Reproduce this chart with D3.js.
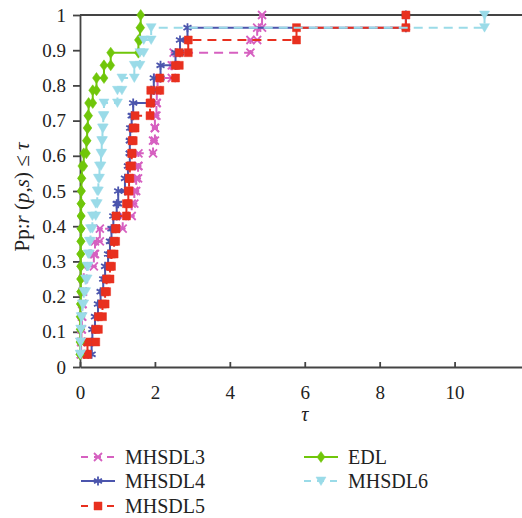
<!DOCTYPE html>
<html>
<head>
<meta charset="utf-8">
<script src="https://cdn.jsdelivr.net/npm/d3@7"></script>
<style>
body { margin: 0; background: #fff; }
</style>
</head>
<body>
<svg id="chart"></svg>
<script>
// fraction of problems solved (28 problems)
var levels = [0.036, 0.071, 0.107, 0.143, 0.179, 0.214, 0.25, 0.286, 0.321, 0.357,
              0.393, 0.429, 0.464, 0.5, 0.536, 0.571, 0.607, 0.643, 0.679, 0.714,
              0.75, 0.786, 0.821, 0.857, 0.893, 0.929, 0.964, 1];

// tau value at which each level is reached
var tauMHSDL3 = [0.02, 0.03, 0.04, 0.05, 0.06, 0.07, 0.08, 0.1, 0.37, 0.4,
                 0.53, 1.14, 1.38, 1.45, 1.5, 1.55, 1.56, 1.95, 2.0, 2.0,
                 2.04, 2.05, 2.07, 2.45, 2.5, 4.55, 4.73, 4.86];
var tauMHSDL4 = [0.22, 0.31, 0.33, 0.4, 0.48, 0.55, 0.62, 0.67, 0.75, 0.8,
                 0.84, 0.89, 0.98, 1.02, 1.2, 1.28, 1.33, 1.33, 1.34, 1.38,
                 1.42, 1.9, 1.97, 2.15, 2.55, 2.67, 2.87, 8.7];
var tauMHSDL5 = [0.18, 0.2, 0.42, 0.49, 0.6, 0.67, 0.71, 0.8, 0.84, 0.91,
                 0.95, 0.96, 1.24, 1.29, 1.31, 1.33, 1.38, 1.39, 1.42, 1.47,
                 1.87, 1.89, 2.13, 2.55, 2.65, 2.89, 5.78, 8.7];
var tauEDL    = [0.0, 0.0, 0.01, 0.01, 0.01, 0.02, 0.02, 0.02, 0.02, 0.02,
                 0.03, 0.03, 0.03, 0.03, 0.04, 0.05, 0.1, 0.17, 0.19, 0.21,
                 0.23, 0.34, 0.44, 0.64, 0.82, 1.56, 1.6, 1.62];
var tauMHSDL6 = [0.01, 0.01, 0.02, 0.03, 0.06, 0.1, 0.15, 0.19, 0.22, 0.25,
                 0.28, 0.33, 0.42, 0.46, 0.49, 0.52, 0.56, 0.58, 0.6, 0.62,
                 0.64, 1.0, 1.12, 1.45, 1.6, 1.7, 1.9, 10.8];

var seriesNames = ["MHSDL3", "MHSDL4", "MHSDL5", "EDL", "MHSDL6"];
var xTicks = [0, 2, 4, 6, 8, 10];
var yTicks = [0, 0.1, 0.2, 0.3, 0.4, 0.5, 0.6, 0.7, 0.8, 0.9, 1];
var yTickLabels = ["0", "0.1", "0.2", "0.3", "0.4", "0.5", "0.6", "0.7", "0.8", "0.9", "1"];

var series = [
  {name: seriesNames[0], tau: tauMHSDL3, color: "#d660c0", dash: "9,6", marker: "x"},
  {name: seriesNames[1], tau: tauMHSDL4, color: "#4b55ad", dash: null,  marker: "star"},
  {name: seriesNames[2], tau: tauMHSDL5, color: "#e8301f", dash: "9,6", marker: "square"},
  {name: seriesNames[3], tau: tauEDL,    color: "#70c60a", dash: null,  marker: "diamond"},
  {name: seriesNames[4], tau: tauMHSDL6, color: "#9adbe8", dash: "9,6", marker: "triangle"}
];

var serif = "'Liberation Serif', 'Times New Roman', serif";

var margin = {top: 15, right: 0, bottom: 151, left: 80},
    width = 522 - margin.left - margin.right,
    height = 518 - margin.top - margin.bottom;

var root = d3.select("#chart")
    .attr("width", 522)
    .attr("height", 518);

var svg = root.append("g")
    .attr("transform", "translate(" + margin.left + "," + margin.top + ")");

var x = d3.scaleLinear().domain([0, 11.8]).range([0, width]);
var y = d3.scaleLinear().domain([0, 1]).range([height, 0]);

// marker path generators, centred on 0,0
function markerPath(kind) {
  if (kind == "square") return "M-4,-4H4V4H-4Z";
  if (kind == "diamond") return "M0,-5.5L4,0L0,5.5L-4,0Z";
  if (kind == "triangle") return "M-5,-4H5L0,4.5Z";
  if (kind == "x") return "M-4,-4L4,4M-4,4L4,-4M-3,0H3";
  return "M0,-4.5V4.5M-4,-2.3L4,2.3M-4,2.3L4,-2.3"; // asterisk
}
function isFilled(kind) { return kind == "square" || kind == "diamond" || kind == "triangle"; }

// axes
var xAxis = d3.axisBottom(x).tickValues(xTicks).tickSizeInner(-5).tickSizeOuter(0).tickPadding(19);
var yAxis = d3.axisLeft(y).tickValues(yTicks).tickSizeInner(7).tickSizeOuter(0).tickPadding(7)
    .tickFormat(function(d, i) { return yTickLabels[i]; });

svg.append("g")
    .attr("class", "x axis")
    .attr("transform", "translate(0," + height + ")")
    .call(xAxis);

svg.append("g")
    .attr("class", "y axis")
    .call(yAxis);

svg.selectAll(".axis")
    .attr("font-family", serif)
    .attr("font-size", 19);
svg.selectAll(".axis path, .axis line")
    .attr("stroke", "#444")
    .attr("stroke-width", 1.8);
svg.selectAll(".axis text")
    .attr("fill", "#222");

// top frame line
svg.append("line")
    .attr("x1", 0).attr("x2", width)
    .attr("y1", 0).attr("y2", 0)
    .attr("stroke", "#444")
    .attr("stroke-width", 1.8);

// step curves
var line = d3.line()
    .x(function(d) { return x(d[0]); })
    .y(function(d) { return y(d[1]); });

series.forEach(function(s) {
  var pts = [];
  s.tau.forEach(function(t, i) {
    if (i > 0) pts.push([t, levels[i - 1]]);
    pts.push([t, levels[i]]);
  });
  var g = svg.append("g").attr("class", "series");
  g.append("path")
      .datum(pts)
      .attr("d", line)
      .attr("fill", "none")
      .attr("stroke", s.color)
      .attr("stroke-width", 2)
      .attr("stroke-dasharray", s.dash);
  g.selectAll(".marker")
      .data(pts)
      .enter()
      .append("path")
      .attr("class", "marker")
      .attr("d", markerPath(s.marker))
      .attr("transform", function(d) { return "translate(" + x(d[0]) + "," + y(d[1]) + ")"; })
      .attr("fill", isFilled(s.marker) ? s.color : "none")
      .attr("stroke", s.color)
      .attr("stroke-width", isFilled(s.marker) ? 0.5 : 1.8);
});

// axis labels
svg.append("text")
    .attr("x", x(6))
    .attr("y", height + 54)
    .attr("text-anchor", "middle")
    .attr("font-family", serif)
    .attr("font-size", 20)
    .style("font-style", "italic")
    .attr("fill", "#222")
    .text("τ");

var yl = root.append("text")
    .attr("transform", "translate(29,197) rotate(-90)")
    .attr("text-anchor", "middle")
    .attr("font-family", serif)
    .attr("font-size", 21)
    .attr("fill", "#222");
yl.append("tspan").text("Pp:");
yl.append("tspan").style("font-style", "italic").text("r");
yl.append("tspan").text(" (");
yl.append("tspan").style("font-style", "italic").text("p");
yl.append("tspan").text(",");
yl.append("tspan").style("font-style", "italic").text("s");
yl.append("tspan").text(") ≤ ");
yl.append("tspan").style("font-style", "italic").text("τ");

// legend, two columns
var legendPos = [[81, 457], [81, 481], [81, 506], [304, 457], [304, 481]];
var legend = root.selectAll(".legend")
    .data(series)
    .enter()
    .append("g")
    .attr("class", "legend")
    .attr("transform", function(d, i) { return "translate(" + legendPos[i][0] + "," + legendPos[i][1] + ")"; });

legend.append("line")
    .attr("x1", 0).attr("x2", 34)
    .attr("stroke", function(d) { return d.color; })
    .attr("stroke-width", 2)
    .attr("stroke-dasharray", function(d) { return d.dash ? "7,6" : null; });

legend.append("path")
    .attr("d", function(d) { return markerPath(d.marker); })
    .attr("transform", "translate(17,0)")
    .attr("fill", function(d) { return isFilled(d.marker) ? d.color : "none"; })
    .attr("stroke", function(d) { return d.color; })
    .attr("stroke-width", function(d) { return isFilled(d.marker) ? 0.5 : 1.8; });

legend.append("text")
    .attr("x", 44)
    .attr("y", 7)
    .attr("font-family", serif)
    .attr("font-size", 20)
    .attr("fill", "#222")
    .text(function(d) { return d.name; });
</script>
</body>
</html>
